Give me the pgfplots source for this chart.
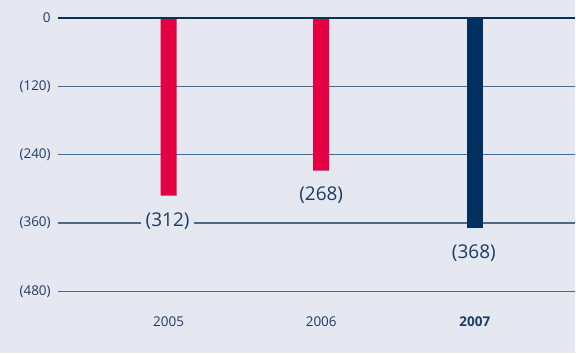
\documentclass[border=0pt]{standalone}
\usepackage{pgfplots}
\pgfplotsset{compat=1.18}
\usepackage{fontspec}
\setmainfont{Open Sans}
\definecolor{bg}{HTML}{E5E8F0}
\definecolor{barred}{HTML}{E40043}
\definecolor{navy}{HTML}{00305F}
\definecolor{gridc}{HTML}{4A6A95}
\definecolor{txt}{HTML}{1E3B66}
\begin{document}
\begin{tikzpicture}
\begin{axis}[
  scale only axis, width=576pt, height=354pt,
  xmin=0, xmax=576, ymin=-588.6, ymax=31.5,
  axis lines=none, axis background/.style={fill=bg},
  clip=false,
]
% gridlines
\addplot[draw=gridc, line width=1.4pt] coordinates {(58,-120)(576,-120)};
\addplot[draw=gridc, line width=1.4pt] coordinates {(58,-240)(576,-240)};
\addplot[draw=gridc, line width=1.4pt] coordinates {(58,-360)(576,-360)};
\addplot[draw=gridc, line width=1.4pt] coordinates {(58,-480)(576,-480)};
% bars
\addplot[ybar, bar shift=0pt, bar width=16pt, fill=barred, draw=none] coordinates {(169,-312)(322,-268)};
\addplot[ybar, bar shift=0pt, bar width=16pt, fill=navy, draw=none] coordinates {(476,-368)};
% zero line
\addplot[draw=navy, line width=2.8pt] coordinates {(58,0)(576,0)};
% y tick labels
\node[text=txt, anchor=east, font=\fontsize{13.5}{15}\selectfont, inner sep=0pt] at (axis cs:51,0) {0};
\node[text=txt, anchor=east, font=\fontsize{13.5}{15}\selectfont, inner sep=0pt] at (axis cs:51,-120) {(120)};
\node[text=txt, anchor=east, font=\fontsize{13.5}{15}\selectfont, inner sep=0pt] at (axis cs:51,-240) {(240)};
\node[text=txt, anchor=east, font=\fontsize{13.5}{15}\selectfont, inner sep=0pt] at (axis cs:51,-360) {(360)};
\node[text=txt, anchor=east, font=\fontsize{13.5}{15}\selectfont, inner sep=0pt] at (axis cs:51,-480) {(480)};
% value labels
\node[text=txt, fill=bg, font=\fontsize{19}{22}\selectfont, inner xsep=5pt, inner ysep=1pt] at (axis cs:168,-357) {(312)};
\node[text=txt, fill=bg, font=\fontsize{19}{22}\selectfont, inner xsep=5pt, inner ysep=1pt] at (axis cs:322,-311) {(268)};
\node[text=txt, fill=bg, font=\fontsize{19}{22}\selectfont, inner xsep=5pt, inner ysep=1pt] at (axis cs:475,-413) {(368)};
% x labels
\node[text=txt, font=\fontsize{13.5}{15}\selectfont] at (axis cs:169,-534) {2005};
\node[text=txt, font=\fontsize{13.5}{15}\selectfont] at (axis cs:322,-534) {2006};
\node[text=txt, font=\fontsize{13.5}{15}\selectfont\bfseries] at (axis cs:476,-534) {2007};
\end{axis}
\end{tikzpicture}
\end{document}
